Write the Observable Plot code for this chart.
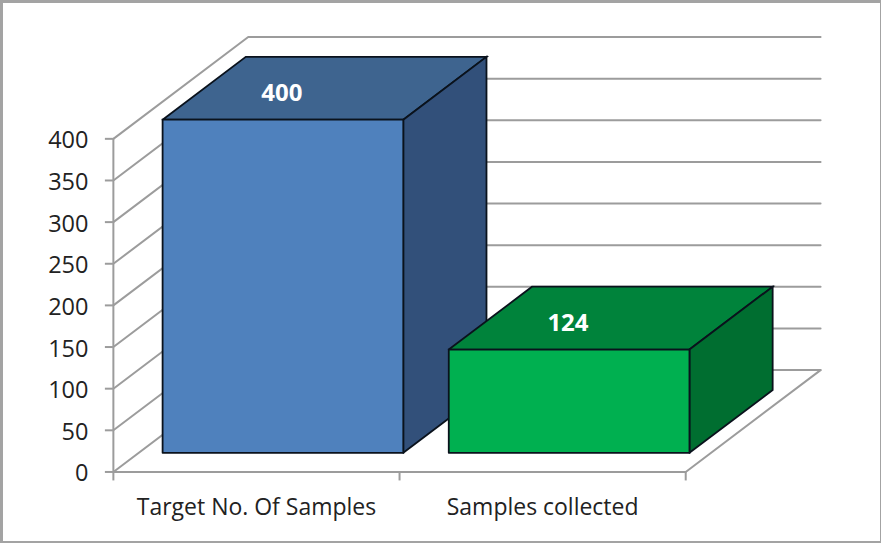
<!DOCTYPE html>
<html>
<head>
<meta charset="utf-8">
<script src="https://cdn.jsdelivr.net/npm/d3@7"></script>
<script src="https://cdn.jsdelivr.net/npm/@observablehq/plot@0.6"></script>
<style>
html,body{margin:0;padding:0;background:#fff}
#frame{position:relative;width:881px;height:543px;box-sizing:border-box;border-style:solid;border-color:#a3a3a3;border-width:3px 1px 2px 3px;overflow:hidden}
#chart{position:absolute;left:-3px;top:-3px}
svg{display:block}
</style>
</head>
<body>
<div id="frame"><div id="chart"></div></div>
<script>
const categories = ["Target No. Of Samples", "Samples collected"];
const values = [400, 124];
const frontColors = ["#4f81bd", "#00b050"];
const topColors = ["#3e648f", "#00833b"];
const sideColors = ["#32507a", "#006e30"];
const yTicks = [0, 50, 100, 150, 200, 250, 300, 350, 400];
const xTicks = [0, 1, 2];

// Oblique projection: one unit of depth shifts a point right and up in data units.
const depthX = 135 / 286.5;
const depthY = 102 / 0.834;
const insetL = 0.0834, insetR = 0.0755, barFront = 0.188, barBack = 0.805, labelDepth = 0.445;
const pt = (c, v, d) => ({px: c + d * depthX, py: v + d * depthY});

const gray = "#9c9c9c";
const wall = (points) => Plot.line(points, {x: "px", y: "py", stroke: gray, strokeWidth: 2, curve: "linear", strokeLinejoin: "miter"});
const face = (points, fill) => Plot.line([...points, points[0]], {x: "px", y: "py", fill, stroke: "#0a121c", strokeWidth: 1.8, curve: "linear", strokeLinejoin: "miter", strokeMiterlimit: 4});

const marks = [];
// walls: left-wall diagonals and back-wall lines
for (const v of yTicks) marks.push(wall([pt(0, v, 0), pt(0, v, 1), pt(2, v, 1)]));
// floor
marks.push(wall([pt(0, 0, 0), pt(2, 0, 0), pt(2, 0, 1)]));
marks.push(wall([pt(0, 0, 0), pt(0, 400, 0)]));
// bars
values.forEach((v, i) => {
  const l = i + insetL, r = i + 1 - insetR;
  marks.push(face([pt(l, v, barFront), pt(r, v, barFront), pt(r, v, barBack), pt(l, v, barBack)], topColors[i]));
  marks.push(face([pt(r, 0, barFront), pt(r, 0, barBack), pt(r, v, barBack), pt(r, v, barFront)], sideColors[i]));
  marks.push(face([pt(l, 0, barFront), pt(r, 0, barFront), pt(r, v, barFront), pt(l, v, barFront)], frontColors[i]));
});
// value labels
marks.push(Plot.text(values.map((v, i) => ({
  px: pt(i + 0.5, v, barFront).px, py: pt(i + 0.5, v, labelDepth).py, label: String(v)
})), {x: "px", y: "py", text: "label", fill: "#fff", fontWeight: "bold", fontSize: 24, fontFamily: "'Open Sans', sans-serif"}));

const chart = Plot.plot({
  width: 881, height: 543,
  marginLeft: 113, marginBottom: 71, marginTop: 0, marginRight: 0,
  x: {type: "linear", domain: [0, 2], range: [113, 686]},
  y: {type: "linear", domain: [0, 400], range: [472, 138.5]},
  style: {background: "transparent", overflow: "visible"},
  marks: [
    ...marks,
    Plot.axisY(yTicks, {label: null, tickSize: 8, tickFormat: () => "", stroke: gray, strokeWidth: 2}),
    Plot.axisY(yTicks, {label: null, tickSize: 0, tickPadding: 25, dy: 2, fill: "#222", fontSize: 23.5, fontFamily: "'Open Sans', sans-serif"}),
    Plot.axisX(xTicks, {label: null, tickSize: 9, tickFormat: () => "", stroke: gray, strokeWidth: 2}),
    Plot.axisX([0.5, 1.5], {label: null, tickSize: 0, tickPadding: 27, tickFormat: (d) => categories[Math.floor(d)], fill: "#222", fontSize: 23, fontFamily: "'Open Sans', sans-serif"})
  ]
});
document.getElementById("chart").append(chart);
</script>
</body>
</html>
